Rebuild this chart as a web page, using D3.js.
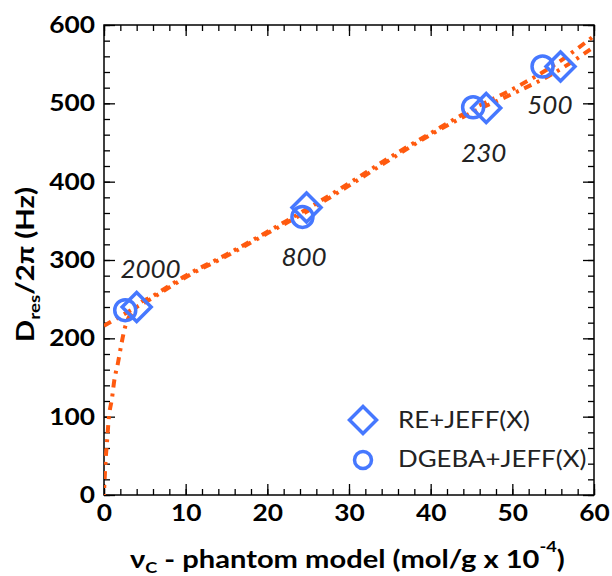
<!DOCTYPE html>
<html><head><meta charset="utf-8">
<script src="https://cdn.jsdelivr.net/npm/d3@7/dist/d3.min.js"></script>
<style>body{margin:0;background:#fff}svg{display:block}</style>
</head><body>
<script>
// ---- data ----
const reX = [4.0, 24.8, 46.8, 55.9];
const reY = [240, 367, 494, 547];
const dgX = [2.6, 24.3, 45.2, 53.7];
const dgY = [236, 355, 495, 547];
const seriesNames = ["RE+JEFF(X)", "DGEBA+JEFF(X)"];
const pointLabels = ["2000", "800", "230", "500"];
const labelX = [5.7, 24.5, 46.5, 54.6];
const labelY = [290, 305, 438, 499];
// phantom-model curves
const fitAX = [0, 1, 2, 4, 6, 8, 10, 15, 20, 25, 30, 35, 40, 45, 50, 55, 60];
const fitAY = [216, 222, 228, 240, 252, 265, 278, 305, 334, 363, 395, 428, 460, 488, 512, 538, 572];
const fitBX = [0, 0.05, 0.1, 0.2, 0.35, 0.57, 1.0, 1.24, 1.7, 2.1, 2.6, 3.0, 3.5, 4, 6, 10, 15, 20, 25, 30, 35, 40, 45, 50, 55, 60];
const fitBY = [0, 15, 25, 45, 65, 96, 125, 145, 168, 191, 215, 226, 234, 241, 254, 280, 307, 336, 366, 398, 431, 462, 492, 518, 548, 586];
const xMajor = [0, 10, 20, 30, 40, 50, 60];
const yMajor = [0, 100, 200, 300, 400, 500, 600];
const xMinor = d3.range(0, 61, 2);
const yMinor = d3.range(0, 601, 20);

// ---- layout ----
const W = 612, H = 576;
const L = 104, R = 594, T = 25, B = 495;
const blue = "#4678ff", orange = "#ff5a0f";
const FONT = "Lato, 'Open Sans', sans-serif";

const svg = d3.select("body").append("svg").attr("width", W).attr("height", H);
const x = d3.scaleLinear().domain([0, 60]).range([L, R]);
const y = d3.scaleLinear().domain([0, 600]).range([B, T]);

function axisStyle(g) {
  g.select(".domain").remove();
  g.selectAll("line").attr("stroke", "#000").attr("stroke-width", 1.3);
}
// minor ticks
svg.append("g").attr("transform", `translate(0,${B})`).call(d3.axisBottom(x).tickValues(xMinor).tickSize(-6).tickFormat("")).call(axisStyle);
svg.append("g").attr("transform", `translate(0,${T})`).call(d3.axisTop(x).tickValues(xMinor).tickSize(-6).tickFormat("")).call(axisStyle);
svg.append("g").attr("transform", `translate(${L},0)`).call(d3.axisLeft(y).tickValues(yMinor).tickSize(-6).tickFormat("")).call(axisStyle);
svg.append("g").attr("transform", `translate(${R},0)`).call(d3.axisRight(y).tickValues(yMinor).tickSize(-6).tickFormat("")).call(axisStyle);
// major ticks
const xb = svg.append("g").attr("transform", `translate(0,${B})`).call(d3.axisBottom(x).tickValues(xMajor).tickSize(-11).tickPadding(9)).call(axisStyle);
svg.append("g").attr("transform", `translate(0,${T})`).call(d3.axisTop(x).tickValues(xMajor).tickSize(-11).tickFormat("")).call(axisStyle);
const yl = svg.append("g").attr("transform", `translate(${L},0)`).call(d3.axisLeft(y).tickValues(yMajor).tickSize(-11).tickPadding(9)).call(axisStyle);
svg.append("g").attr("transform", `translate(${R},0)`).call(d3.axisRight(y).tickValues(yMajor).tickSize(-11).tickFormat("")).call(axisStyle);

[xb, yl].forEach(g => g.selectAll("text")
  .attr("font-family", FONT).attr("font-weight", "bold").attr("font-size", 23.5).attr("fill", "#000"));
xb.selectAll("text").attr("transform", "scale(1.12,1)");
yl.selectAll("text").attr("transform", "scale(1.12,1)").attr("x", -9 / 1.12);

// frame
svg.append("rect").attr("x", L).attr("y", T).attr("width", R - L).attr("height", B - T)
  .attr("fill", "none").attr("stroke", "#000").attr("stroke-width", 1.5);

// curves
const clipId = "plotclip";
svg.append("clipPath").attr("id", clipId).append("rect").attr("x", L).attr("y", T - 2).attr("width", R - L + 2).attr("height", B - T + 2);
const line = d3.line().curve(d3.curveMonotoneX);
function drawCurve(xs, ys, offset) {
  svg.append("path").attr("clip-path", `url(#${clipId})`)
    .attr("d", line(xs.map((v, i) => [x(v), y(ys[i])])))
    .attr("fill", "none").attr("stroke", orange).attr("stroke-width", 4)
    .attr("stroke-dasharray", "8,6,3,6").attr("stroke-dashoffset", offset);
}
drawCurve(fitAX, fitAY, 0);
drawCurve(fitBX, fitBY, 7);

// markers
const diamond = (cx, cy, r) => `M${cx},${cy - r}L${cx + r},${cy}L${cx},${cy + r}L${cx - r},${cy}Z`;
svg.append("g").selectAll("circle").data(dgX).join("circle")
  .attr("cx", (d) => x(d)).attr("cy", (d, i) => y(dgY[i])).attr("r", 10.5)
  .attr("fill", "none").attr("stroke", blue).attr("stroke-width", 3.5);
svg.append("g").selectAll("path").data(reX).join("path")
  .attr("d", (d, i) => diamond(x(d), y(reY[i]), 14.5))
  .attr("fill", "none").attr("stroke", blue).attr("stroke-width", 3.5).attr("stroke-linejoin", "miter");

// point labels
svg.append("g").selectAll("text").data(pointLabels).join("text")
  .attr("x", (d, i) => x(labelX[i])).attr("y", (d, i) => y(labelY[i]))
  .attr("text-anchor", "middle").attr("dominant-baseline", "central")
  .attr("font-family", FONT).attr("font-style", "italic").attr("font-size", 26).attr("fill", "#222")
  .text(d => d);

// legend
const leg = svg.append("g");
leg.append("path").attr("d", diamond(363, 420, 13.5)).attr("fill", "none").attr("stroke", blue).attr("stroke-width", 3.5);
leg.append("circle").attr("cx", 363).attr("cy", 460).attr("r", 8.5).attr("fill", "none").attr("stroke", blue).attr("stroke-width", 3.5);
const lt1 = leg.append("text").attr("font-family", FONT).attr("font-size", 23.5).attr("fill", "#222").text(seriesNames[0]);
const s1 = 132 / lt1.node().getComputedTextLength();
lt1.attr("transform", `translate(398,428) scale(${s1},1)`);
const lt2 = leg.append("text").attr("font-family", FONT).attr("font-size", 23.5).attr("fill", "#222").text(seriesNames[1]);
lt2.attr("transform", `translate(398,467) scale(${s1},1)`);

// x title
const xt = svg.append("text").attr("font-family", FONT).attr("font-weight", "bold").attr("font-size", 24).attr("fill", "#000");
xt.append("tspan").text("ν");
xt.append("tspan").attr("font-size", 15).attr("dy", 5).text("C");
xt.append("tspan").attr("dy", -5).text(" - phantom model (mol/g x 10");
xt.append("tspan").attr("font-size", 15).attr("dy", -16).text("-4");
xt.append("tspan").attr("dy", 16).text(")");
const bx = xt.node().getBBox();
const sx = 435 / bx.width;
xt.attr("transform", `translate(130,568) scale(${sx},1)`);

// y title
const yt = svg.append("text").attr("font-family", FONT).attr("font-weight", "bold").attr("font-size", 25).attr("fill", "#000");
yt.append("tspan").text("D");
yt.append("tspan").attr("font-size", 16).attr("dy", 6).text("res");
yt.append("tspan").attr("dy", -6).text("/2π (Hz)");
const by = yt.node().getBBox();
const sy = 155 / by.width;
yt.attr("transform", `translate(34,342) rotate(-90) scale(${sy},1)`);
</script>
</body></html>
